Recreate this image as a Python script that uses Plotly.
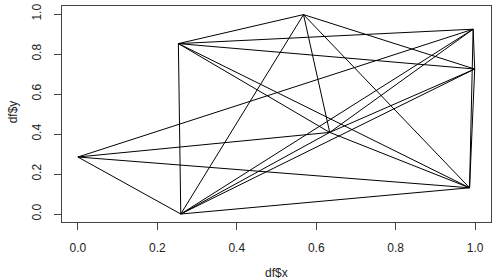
import plotly.graph_objects as go

# distinct vertices
pt_x = [0.000, 0.259, 0.253, 0.568, 0.634, 0.986, 0.995, 0.999]
pt_y = [0.285, 0.000, 0.852, 0.997, 0.408, 0.131, 0.924, 0.725]
names = ["A", "B", "C", "D", "E", "F", "G", "H"]

# connections between vertices (index pairs)
edges = [
    (0, 1), (0, 4), (0, 5), (0, 6),
    (1, 2), (1, 3), (1, 5), (1, 6), (1, 4), (1, 7),
    (2, 3), (2, 6), (2, 7), (2, 4), (2, 5),
    (3, 4), (3, 5), (3, 7),
    (4, 5), (4, 6), (4, 7),
    (6, 7), (7, 5), (6, 5),
]

xs, ys = [], []
for a, b in edges:
    xs += [pt_x[a], pt_x[b], None]
    ys += [pt_y[a], pt_y[b], None]

fig = go.Figure(go.Scatter(x=xs, y=ys, mode="lines",
                           line=dict(color="black", width=1),
                           hoverinfo="skip", showlegend=False))

L, R, T, B = 61.7, 9, 4, 58
W, H = 500, 280
pw, ph = W - L - R, H - T - B

font = dict(family="Liberation Sans, Arial, sans-serif", size=12, color="#222")
axis_common = dict(showline=True, mirror=True, linecolor="#444", linewidth=1,
                   ticks="outside", ticklen=7, tickcolor="#444", tickwidth=1,
                   showgrid=False, zeroline=False, tickfont=font,
                   ticklabelstandoff=8)

fig.update_layout(
    width=W, height=H,
    margin=dict(l=L, r=R, t=T, b=B, pad=0),
    paper_bgcolor="white", plot_bgcolor="white",
    xaxis=dict(range=[-0.04, 1.04], tickvals=[0, 0.2, 0.4, 0.6, 0.8, 1.0],
               ticktext=["0.0", "0.2", "0.4", "0.6", "0.8", "1.0"], **axis_common),
    yaxis=dict(range=[-0.04, 1.04], tickvals=[0, 0.2, 0.4, 0.6, 0.8, 1.0],
               ticktext=["0.0", "0.2", "0.4", "0.6", "0.8", "1.0"], tickangle=-90,
               **axis_common),
    annotations=[
        dict(text="df$x", xref="paper", yref="paper",
             x=(276.5 - L) / pw, y=(T + ph - 273) / ph,
             xanchor="center", yanchor="middle", showarrow=False, font=font),
        dict(text="df$y", xref="paper", yref="paper",
             x=(13 - L) / pw, y=(T + ph - 111) / ph, textangle=-90,
             xanchor="center", yanchor="middle", showarrow=False, font=font),
    ],
)

fig.write_html("out.html")
